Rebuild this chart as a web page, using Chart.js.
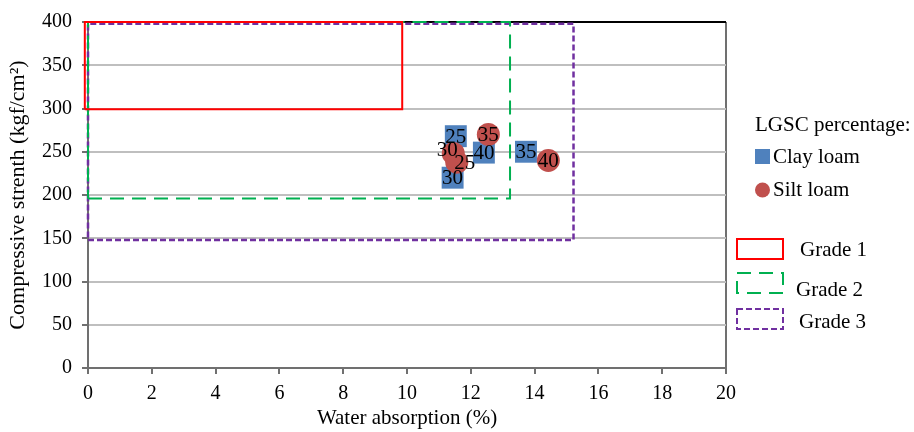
<!DOCTYPE html>
<html>
<head>
<meta charset="utf-8">
<script src="https://cdn.jsdelivr.net/npm/chart.js@4.4.1/dist/chart.umd.min.js"></script>
<style>
  body { margin: 0; background: #fff; }
</style>
</head>
<body>
<canvas id="chart" width="914" height="432"></canvas>
<script>

// LGSC percentage points
const clayAbsorption = [11.53, 11.43, 12.41, 13.73];
const clayStrength = [268, 220, 249, 250];
const clayLabels = ["25", "30", "40", "35"];

const siltAbsorption = [11.45, 11.56, 12.55, 14.43];
const siltStrength = [248, 238, 270, 240];
const siltLabels = ["30", "25", "35", "40"];

// grade limits (water absorption max, strength min)
const gradeNames = ["Grade 1", "Grade 2", "Grade 3"];
const gradeMinAbsorption = [-0.1, 0, 0];
const gradeMaxAbsorption = [9.85, 13.23, 15.22];
const gradeMinStrength = [299, 196, 148];
const gradeMaxStrength = [400, 400, 398];

const xTicks = [0, 2, 4, 6, 8, 10, 12, 14, 16, 18, 20];
const yTicks = [0, 50, 100, 150, 200, 250, 300, 350, 400];

const serif = "'Liberation Serif', 'Times New Roman', serif";
const gradeColors = ["#FF0000", "#00B050", "#7030A0"];
const gradeDash = [[], [14, 8], [6, 3]];

function points(xs, ys) {
    return xs.map((x, i) => ({ x: x, y: ys[i] }));
}

function box(i) {
    const x0 = gradeMinAbsorption[i], x1 = gradeMaxAbsorption[i];
    const y0 = gradeMinStrength[i], y1 = gradeMaxStrength[i];
    return [
        { x: x0, y: y0 }, { x: x1, y: y0 }, { x: x1, y: y1 },
        { x: x0, y: y1 }, { x: x0, y: y0 }
    ];
}

// label tweaks for the two overlapping silt loam points
const labelShift = {
    silt: [[-6, -4], [8, 0], [0, 0], [0, 0]]
};

const pointLabels = {
    id: "pointLabels",
    afterDatasetsDraw(chart) {
        const ctx = chart.ctx;
        ctx.save();
        ctx.font = "21px " + serif;
        ctx.fillStyle = "#000";
        ctx.textAlign = "center";
        ctx.textBaseline = "middle";
        chart.data.datasets.forEach((ds, di) => {
            if (!ds.pointText) return;
            const meta = chart.getDatasetMeta(di);
            meta.data.forEach((pt, i) => {
                const shift = (labelShift[ds.key] || [])[i] || [0, 0];
                ctx.fillText(ds.pointText[i], pt.x + shift[0], pt.y + shift[1] + 1);
            });
        });
        ctx.restore();
    }
};

const sideLegend = {
    id: "sideLegend",
    afterDraw(chart) {
        const ctx = chart.ctx;
        ctx.save();
        ctx.font = "21px " + serif;
        ctx.fillStyle = "#000";
        ctx.textBaseline = "middle";
        ctx.textAlign = "left";

        ctx.fillText("LGSC percentage:", 755, 125);

        ctx.fillStyle = "#4F81BD";
        ctx.fillRect(755, 149, 15, 15);
        ctx.fillStyle = "#000";
        ctx.fillText("Clay loam", 773, 157);

        ctx.fillStyle = "#C0504D";
        ctx.beginPath();
        ctx.arc(762.5, 190, 7.5, 0, Math.PI * 2);
        ctx.fill();
        ctx.fillStyle = "#000";
        ctx.fillText("Silt loam", 773, 190);

        const boxTop = [239, 273, 309];
        const textX = [800, 796, 799];
        const textY = [250, 290, 322];
        gradeNames.forEach((name, i) => {
            ctx.strokeStyle = gradeColors[i];
            ctx.lineWidth = 2;
            ctx.setLineDash(gradeDash[i]);
            ctx.strokeRect(737, boxTop[i], 46, 20);
            ctx.setLineDash([]);
            ctx.fillStyle = "#000";
            ctx.fillText(name, textX[i], textY[i]);
        });
        ctx.restore();
    }
};

const gradeSets = gradeNames.map((name, i) => ({
    label: name,
    data: box(i),
    showLine: true,
    fill: false,
    tension: 0,
    pointRadius: 0,
    borderColor: gradeColors[i],
    borderWidth: i === 2 ? 2.5 : 2,
    borderDash: gradeDash[i],
    clip: false,
    order: 3 + i
}));

new Chart(document.getElementById("chart"), {
    type: "scatter",
    data: {
        datasets: [
            ...gradeSets,
            {
                label: "Clay loam",
                key: "clay",
                data: points(clayAbsorption, clayStrength),
                pointText: clayLabels,
                pointStyle: "rect",
                pointRadius: 15.5,
                pointBorderWidth: 0,
                backgroundColor: "#4F81BD",
                borderColor: "#4F81BD",
                order: 2
            },
            {
                label: "Silt loam",
                key: "silt",
                data: points(siltAbsorption, siltStrength),
                pointText: siltLabels,
                pointStyle: "circle",
                pointRadius: 11.5,
                pointBorderWidth: 0,
                backgroundColor: "#C0504D",
                borderColor: "#C0504D",
                order: 1
            }
        ]
    },
    options: {
        responsive: false,
        animation: false,
        devicePixelRatio: 1,
        layout: {
            padding: { left: 0, right: 188, top: 19, bottom: 0 }
        },
        plugins: {
            legend: { display: false },
            tooltip: { enabled: false }
        },
        scales: {
            x: {
                type: "linear",
                min: 0,
                max: 20,
                afterBuildTicks: (scale) => {
                    scale.ticks = xTicks.map(v => ({ value: v }));
                },
                afterFit: (scale) => { scale.height = 64; },
                border: { color: "#707070", width: 2 },
                grid: {
                    color: (c) => c.tick && c.tick.value === 20 ? "#707070" : "rgba(0,0,0,0)",
                    lineWidth: 2,
                    tickColor: "#707070",
                    tickLength: 6
                },
                ticks: {
                    color: "#000",
                    padding: 8,
                    font: { family: serif, size: 20 }
                },
                title: {
                    display: true,
                    text: "Water absorption (%)",
                    color: "#000",
                    padding: { top: 0, bottom: 1 },
                    font: { family: serif, size: 21 }
                }
            },
            y: {
                type: "linear",
                min: 0,
                max: 400,
                afterBuildTicks: (scale) => {
                    scale.ticks = yTicks.map(v => ({ value: v }));
                },
                afterFit: (scale) => { scale.width = 88; },
                border: { color: "#707070", width: 2 },
                grid: {
                    color: (c) => c.tick && c.tick.value === 400 ? "#000" : "#BFBFBF",
                    lineWidth: 2,
                    tickColor: "#707070",
                    tickLength: 6
                },
                ticks: {
                    color: "#000",
                    padding: 10,
                    font: { family: serif, size: 20 }
                },
                title: {
                    display: true,
                    text: "Compressive strenth (kgf/cm²)",
                    color: "#000",
                    padding: { top: 5, bottom: 0 },
                    font: { family: serif, size: 22 }
                }
            }
        }
    },
    plugins: [pointLabels, sideLegend]
});

</script>
</body>
</html>
